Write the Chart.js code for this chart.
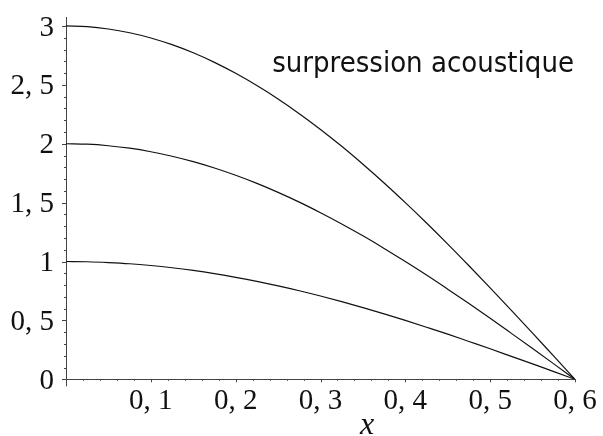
<!DOCTYPE html>
<html>
<head>
<meta charset="utf-8">
<script src="https://cdn.jsdelivr.net/npm/chart.js@4/dist/chart.umd.min.js"></script>
<style>
  html, body { margin: 0; padding: 0; background: #fff; }
  #wrap { width: 603px; height: 436px; position: relative; }
</style>
</head>
<body>
<div id="wrap"><canvas id="c" width="603" height="436"></canvas></div>
<script>
// abscissa samples (x, in metres)
const xValues = [0, 0.025, 0.05, 0.075, 0.1, 0.125, 0.15, 0.175, 0.2, 0.225, 0.25, 0.275,
                 0.3, 0.325, 0.35, 0.375, 0.4, 0.425, 0.45, 0.475, 0.5, 0.525, 0.55, 0.575, 0.6];

// acoustic overpressure profiles, three amplitudes
const pressureLow  = [1.000, 0.998, 0.991, 0.981, 0.966, 0.947, 0.924, 0.897, 0.866, 0.831,
                      0.793, 0.752, 0.707, 0.659, 0.609, 0.556, 0.500, 0.442, 0.383, 0.321,
                      0.259, 0.195, 0.131, 0.065, 0.000];
const pressureMid  = [2.000, 1.996, 1.983, 1.962, 1.932, 1.894, 1.848, 1.794, 1.732, 1.663,
                      1.587, 1.504, 1.414, 1.319, 1.218, 1.111, 1.000, 0.885, 0.765, 0.643,
                      0.518, 0.390, 0.261, 0.131, 0.000];
const pressureHigh = [3.000, 2.994, 2.974, 2.942, 2.898, 2.841, 2.772, 2.691, 2.598, 2.494,
                      2.380, 2.255, 2.121, 1.978, 1.826, 1.667, 1.500, 1.327, 1.148, 0.964,
                      0.776, 0.585, 0.392, 0.196, 0.000];

// axis tick labels (French decimal comma)
const xTickValues = [0.1, 0.2, 0.3, 0.4, 0.5, 0.6];
const xTickLabels = ['0, 1', '0, 2', '0, 3', '0, 4', '0, 5', '0, 6'];
const yTickValues = [0, 0.5, 1, 1.5, 2, 2.5, 3];
const yTickLabels = ['0', '0, 5', '1', '1, 5', '2', '2, 5', '3'];

const chartTitle = 'surpression acoustique';
const xAxisName = 'x';

const toPoints = ys => xValues.map((x, i) => ({ x: x, y: ys[i] }));
const lineStyle = {
  borderColor: '#111',
  borderWidth: 1.2,
  pointRadius: 0,
  fill: false,
  cubicInterpolationMode: 'monotone'
};

function labelFor(values, labels, v) {
  for (let i = 0; i < values.length; i++) {
    if (Math.abs(values[i] - v) < 1e-6) return labels[i];
  }
  return '';
}

// minor/major tick marks, axis name and caption
const decorations = {
  id: 'decorations',
  afterDraw(chart) {
    const ctx = chart.ctx;
    const xs = chart.scales.x, ys = chart.scales.y;
    const area = chart.chartArea;
    ctx.save();
    ctx.strokeStyle = '#444';
    ctx.lineWidth = 1;
    ctx.beginPath();
    for (let k = 0; k <= 30; k++) {
      const v = k / 10;
      const py = Math.round(ys.getPixelForValue(v)) + 0.5;
      const len = (k % 5 === 0) ? 4 : 2;
      ctx.moveTo(area.left - len, py);
      ctx.lineTo(area.left, py);
    }
    for (let k = 0; k <= 30; k++) {
      const v = k * 0.02;
      const px = Math.round(xs.getPixelForValue(v)) + 0.5;
      const len = k === 0 ? 7 : ((k % 5 === 0) ? 3 : 1.5);
      ctx.moveTo(px, area.bottom);
      ctx.lineTo(px, area.bottom + len);
    }
    ctx.stroke();

    ctx.fillStyle = '#111';
    ctx.font = "italic 32px 'Liberation Serif'";
    ctx.textAlign = 'center';
    ctx.textBaseline = 'alphabetic';
    ctx.fillText(xAxisName, xs.getPixelForValue(0.355), 434);

    ctx.font = "29px 'DejaVu Sans Condensed', 'DejaVu Sans'";
    ctx.textAlign = 'right';
    ctx.fillText(chartTitle, 574, 72);
    ctx.restore();
  }
};

new Chart(document.getElementById('c'), {
  type: 'line',
  data: {
    datasets: [
      Object.assign({ label: 'p1', data: toPoints(pressureLow) }, lineStyle),
      Object.assign({ label: 'p2', data: toPoints(pressureMid) }, lineStyle),
      Object.assign({ label: 'p3', data: toPoints(pressureHigh) }, lineStyle)
    ]
  },
  options: {
    responsive: false,
    animation: false,
    events: [],
    layout: { padding: { left: 0, right: 28, top: 17.7, bottom: 0 } },
    plugins: { legend: { display: false }, tooltip: { enabled: false }, title: { display: false } },
    scales: {
      x: {
        type: 'linear',
        min: 0,
        max: 0.6,
        afterFit(scale) {
          scale.height = 56.7;
          scale.paddingLeft = 0;
          scale.paddingRight = 0;
        },
        grid: { display: false, drawTicks: false },
        border: { display: true, color: '#444', width: 1 },
        afterBuildTicks(scale) { scale.ticks = xTickValues.map(v => ({ value: v })); },
        ticks: {
          autoSkip: false,
          maxRotation: 0,
          padding: 5,
          color: '#111',
          font: { family: "'Liberation Serif'", size: 29 },
          callback: v => labelFor(xTickValues, xTickLabels, v)
        }
      },
      y: {
        type: 'linear',
        min: 0,
        max: 3.07,
        afterFit(scale) {
          scale.width = 66;
          scale.paddingTop = 0;
          scale.paddingBottom = 0;
        },
        grid: { display: false, drawTicks: false },
        border: { display: true, color: '#444', width: 1 },
        afterBuildTicks(scale) { scale.ticks = yTickValues.map(v => ({ value: v })); },
        ticks: {
          autoSkip: false,
          padding: 12,
          labelOffset: 2,
          color: '#111',
          font: { family: "'Liberation Serif'", size: 29 },
          callback: v => labelFor(yTickValues, yTickLabels, v)
        }
      }
    }
  },
  plugins: [decorations]
});
</script>
</body>
</html>
